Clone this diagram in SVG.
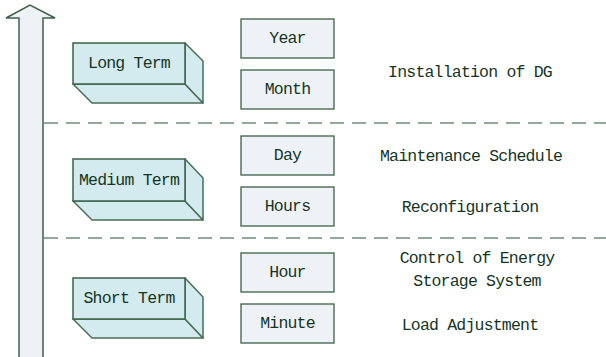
<svg xmlns="http://www.w3.org/2000/svg" width="606" height="357" viewBox="0 0 606 357">
<style>
.t{font-family:"Liberation Mono","DejaVu Sans Mono",monospace;font-size:16.5px;letter-spacing:-0.8px;fill:#15351f;text-anchor:middle;dominant-baseline:central}
.front{fill:#d3eaee;stroke:#3e6048;stroke-width:1.5}
.side{fill:#d3eaee;stroke:#4a6e55;stroke-width:1.5;stroke-linejoin:round}
.small{fill:#eef2f6;stroke:#3e6048;stroke-width:1.3}
.dash{stroke:#6f8f7a;stroke-width:1.5;stroke-dasharray:14 8;fill:none}
</style>
<g id="time-arrow">
<path d="M19,357 V18 H6 L30,5 L55,18 H43 V357" fill="#eef2f6" stroke="#3e6048" stroke-width="1.5"/>
</g>
<g id="connectors">
<line class="dash" x1="44" y1="123" x2="606" y2="123"/>
<line class="dash" x1="44" y1="238" x2="606" y2="238"/>
</g>
<g id="long-term">
<path class="side" d="M73,84 L92,103 H203 L185,84 Z"/>
<path class="side" d="M185,43 L203,61 V103 L185,84 Z"/>
<rect class="front" x="73" y="43" width="112" height="41"/>
<text class="t" x="129" y="63">Long Term</text>
</g>
<g id="medium-term">
<path class="side" d="M73,201 L92,220 H203 L185,201 Z"/>
<path class="side" d="M185,159 L203,178 V220 L185,201 Z"/>
<rect class="front" x="73" y="159" width="112" height="42"/>
<text class="t" x="129" y="180">Medium Term</text>
</g>
<g id="short-term">
<path class="side" d="M73,319 L92,338 H203 L185,319 Z"/>
<path class="side" d="M185,278 L203,297 V338 L185,319 Z"/>
<rect class="front" x="73" y="278" width="112" height="41"/>
<text class="t" x="129" y="298">Short Term</text>
</g>
<g id="year"><rect class="small" x="241" y="19" width="93" height="39"/><text class="t" x="287.5" y="38.5">Year</text></g>
<g id="month"><rect class="small" x="241" y="70" width="93" height="39"/><text class="t" x="287.5" y="89.5">Month</text></g>
<g id="day"><rect class="small" x="241" y="136" width="93" height="39"/><text class="t" x="287.5" y="155.5">Day</text></g>
<g id="hours"><rect class="small" x="241" y="187" width="93" height="39"/><text class="t" x="287.5" y="206.5">Hours</text></g>
<g id="hour"><rect class="small" x="241" y="253" width="93" height="39"/><text class="t" x="287.5" y="272.5">Hour</text></g>
<g id="minute"><rect class="small" x="241" y="304" width="93" height="39"/><text class="t" x="287.5" y="323.5">Minute</text></g>
<g id="labels">
<text class="t" x="470" y="72">Installation of DG</text>
<text class="t" x="471" y="156">Maintenance Schedule</text>
<text class="t" x="470" y="207">Reconfiguration</text>
<text class="t" x="477" y="258">Control of Energy</text>
<text class="t" x="477" y="281">Storage System</text>
<text class="t" x="470" y="325">Load Adjustment</text>
</g>
</svg>
